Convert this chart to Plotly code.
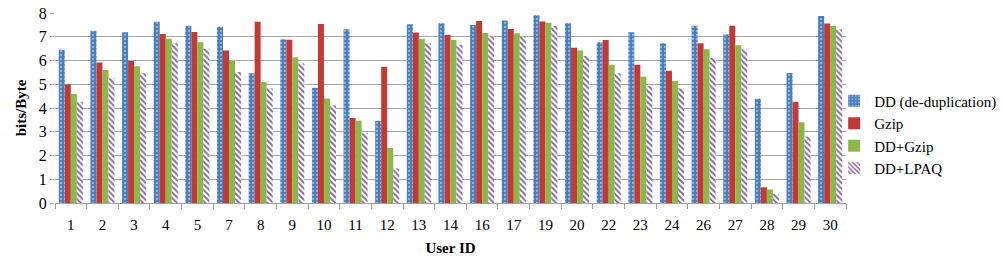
import plotly.graph_objects as go

users = ["1", "2", "3", "4", "5", "7", "8", "9", "10", "11", "12", "13", "14", "16", "17",
         "19", "20", "22", "23", "24", "26", "27", "28", "29", "30"]
dd = [6.45, 7.25, 7.19, 7.63, 7.46, 7.42, 5.46, 6.90, 4.85, 7.32, 3.46, 7.53, 7.57, 7.49, 7.68,
      7.91, 7.57, 6.77, 7.19, 6.73, 7.46, 7.11, 4.39, 5.47, 7.87]
gzip = [5.00, 5.92, 5.98, 7.12, 7.20, 6.42, 7.63, 6.87, 7.54, 3.58, 5.74, 7.18, 7.08, 7.66, 7.33,
        7.64, 6.54, 6.86, 5.82, 5.57, 6.73, 7.46, 0.66, 4.26, 7.56]
dd_gzip = [4.59, 5.60, 5.76, 6.92, 6.77, 5.98, 5.09, 6.14, 4.40, 3.47, 2.32, 6.91, 6.86, 7.16, 7.15,
           7.59, 6.42, 5.82, 5.32, 5.14, 6.47, 6.64, 0.57, 3.40, 7.45]
dd_lpaq = [4.26, 5.25, 5.46, 6.73, 6.49, 5.52, 4.83, 5.87, 4.11, 2.94, 1.46, 6.73, 6.66, 7.04, 7.00,
           7.45, 6.19, 5.46, 4.92, 4.83, 6.12, 6.47, 0.37, 2.80, 7.32]

series_names = ["DD (de-duplication)", "Gzip", "DD+Gzip", "DD+LPAQ"]

fig = go.Figure()
fig.add_trace(go.Bar(x=users, y=dd, name=series_names[0],
                     marker=dict(color="#4a7ebb", line=dict(width=0),
                                 pattern=dict(shape=".", fgcolor="#dfe9f5", bgcolor="#4a7ebb",
                                              size=4, solidity=0.25, fillmode="overlay"))))
fig.add_trace(go.Bar(x=users, y=gzip, name=series_names[1],
                     marker=dict(color="#c23a36", line=dict(width=0))))
fig.add_trace(go.Bar(x=users, y=dd_gzip, name=series_names[2],
                     marker=dict(color="#8cb848", line=dict(width=0))))
fig.add_trace(go.Bar(x=users, y=dd_lpaq, name=series_names[3],
                     marker=dict(color="#ffffff", line=dict(width=0),
                                 pattern=dict(shape="\\", fgcolor="#7b5aa6", bgcolor="#ffffff",
                                              size=4, solidity=0.45, fillmode="replace"))))

font_family = "Times New Roman"
fig.update_layout(
    width=1003, height=268,
    margin=dict(l=55, r=157, t=13, b=65, autoexpand=False),
    paper_bgcolor="white", plot_bgcolor="white",
    barmode="group", bargap=0.24, bargroupgap=0.0,
    font=dict(family=font_family, size=14, color="black"),
    showlegend=True,
    legend=dict(x=0.985, y=0.36, xanchor="left", yanchor="middle",
                font=dict(family=font_family, size=15, color="black"),
                itemwidth=30, bgcolor="rgba(0,0,0,0)"),
    xaxis=dict(type="category", showline=True, linecolor="#a0a0a0", linewidth=1,
               ticks="outside", tickson="boundaries", ticklen=5, tickcolor="#a0a0a0",
               ticklabelstandoff=8,
               tickfont=dict(family=font_family, size=15), showgrid=False,
               title=dict(text="<b>User ID</b>", font=dict(family=font_family, size=15), standoff=10)),
    yaxis=dict(range=[0, 8], dtick=1, showgrid=True, gridcolor="#a6a6a6", gridwidth=1,
               showline=False, ticks="outside", ticklen=4, tickcolor="#a6a6a6",
               tickfont=dict(family=font_family, size=16), zeroline=False,
               title=dict(text="<b>bits/Byte</b>", font=dict(family=font_family, size=15), standoff=8)),
)

fig.write_html("out.html",
               config={"displayModeBar": False},
               post_script="document.body.style.margin='0';document.body.style.overflow='hidden';")
